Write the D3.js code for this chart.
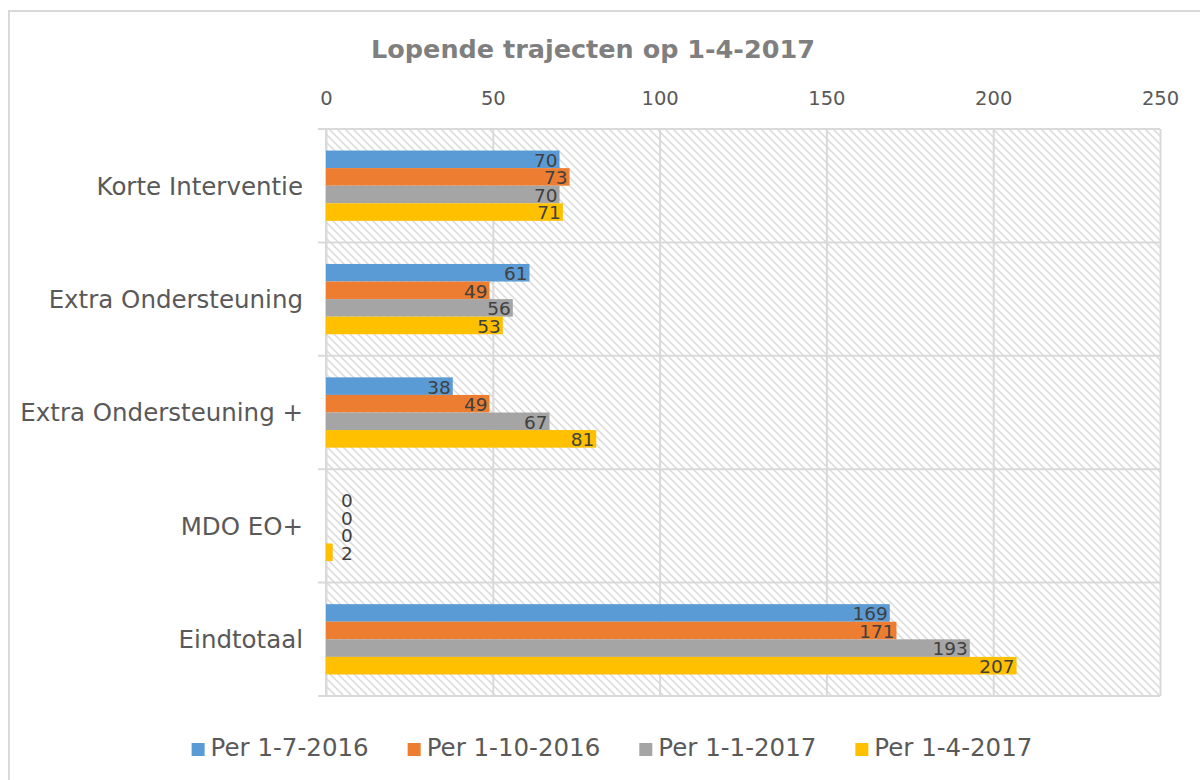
<!DOCTYPE html>
<html>
<head>
<meta charset="utf-8">
<script src="https://cdn.jsdelivr.net/npm/d3@7"></script>
<style>
  html, body { margin: 0; padding: 0; background: #fff; }
  svg text { font-family: 'DejaVu Sans', Verdana, sans-serif; }
</style>
</head>
<body>
<div id="chart"></div>
<script>
// data
const categories = ['Korte Interventie', 'Extra Ondersteuning', 'Extra Ondersteuning +', 'MDO EO+', 'Eindtotaal'];
const seriesNames = ['Per 1-7-2016', 'Per 1-10-2016', 'Per 1-1-2017', 'Per 1-4-2017'];
const perJul2016 = [70, 61, 38, 0, 169];
const perOct2016 = [73, 49, 49, 0, 171];
const perJan2017 = [70, 56, 67, 0, 193];
const perApr2017 = [71, 53, 81, 2, 207];
const xTicks = [0, 50, 100, 150, 200, 250];
const colors = ['#5b9bd5', '#ed7d31', '#a5a5a5', '#ffc000'];

const seriesValues = [perJul2016, perOct2016, perJan2017, perApr2017];

const W = 1200, H = 780;
const plot = { left: 326, right: 1160, top: 129, bottom: 696 };
const gridColor = '#d9d9d9';

const svg = d3.select('#chart').append('svg')
  .attr('width', W)
  .attr('height', H);

// hatch fill for the plot area
const defs = svg.append('defs');
const pat = defs.append('pattern')
  .attr('id', 'hatch')
  .attr('patternUnits', 'userSpaceOnUse')
  .attr('width', 8)
  .attr('height', 8);
pat.append('rect').attr('width', 8).attr('height', 8).attr('fill', '#fff');
pat.append('path')
  .attr('d', 'M0,0 L8,8 M-2,6 L2,10 M6,-2 L10,2')
  .attr('stroke', '#d9d9d9')
  .attr('stroke-width', 1.5);

// outer chart border
svg.append('rect')
  .attr('x', 9).attr('y', 11)
  .attr('width', W).attr('height', H)
  .attr('fill', 'none')
  .attr('stroke', gridColor)
  .attr('stroke-width', 2);

// title
svg.append('text')
  .attr('x', 593)
  .attr('y', 58)
  .attr('text-anchor', 'middle')
  .style('font-size', '25.5px')
  .style('font-weight', 700)
  .style('fill', '#7f7f7f')
  .text('Lopende trajecten op 1-4-2017');

//
// Scales
//
const x = d3.scaleLinear()
  .domain([0, 250])
  .range([plot.left, plot.right]);

const y0 = d3.scaleBand()
  .domain(categories)
  .range([plot.top, plot.bottom])
  .paddingInner(0.38)
  .paddingOuter(0.19);

const y1 = d3.scaleBand()
  .domain(d3.range(seriesNames.length))
  .range([0, y0.bandwidth()]);

// plot background
svg.append('rect')
  .attr('x', plot.left).attr('y', plot.top)
  .attr('width', plot.right - plot.left)
  .attr('height', plot.bottom - plot.top)
  .attr('fill', 'url(#hatch)');

// x axis on top, ticks used as vertical gridlines
const xAxis = d3.axisTop(x)
  .tickValues(xTicks)
  .tickSizeInner(-(plot.bottom - plot.top))
  .tickSizeOuter(0)
  .tickPadding(24);

const gx = svg.append('g')
  .attr('class', 'x axis')
  .attr('transform', `translate(0, ${plot.top})`)
  .call(xAxis);
gx.select('.domain').remove();
gx.selectAll('.tick line')
  .attr('stroke', gridColor)
  .attr('stroke-width', 2);
gx.selectAll('.tick text')
  .style('font-size', '19.5px')
  .style('font-family', "'DejaVu Sans', Verdana, sans-serif")
  .style('fill', '#595959');

// category separators (with small tick to the left)
const step = y0.step();
const bounds = categories.map(c => y0(c) - y0.paddingOuter() * step);
bounds.push(plot.bottom);
svg.append('g').selectAll('line')
  .data(bounds)
  .enter().append('line')
    .attr('x1', plot.left - 8)
    .attr('x2', plot.right)
    .attr('y1', d => d)
    .attr('y2', d => d)
    .attr('stroke', gridColor)
    .attr('stroke-width', 2);

// left axis line
svg.append('line')
  .attr('x1', plot.left).attr('x2', plot.left)
  .attr('y1', plot.top).attr('y2', plot.bottom)
  .attr('stroke', gridColor)
  .attr('stroke-width', 2);

// category labels
svg.append('g').selectAll('text')
  .data(categories)
  .enter().append('text')
    .attr('x', 303)
    .attr('y', d => y0(d) + y0.bandwidth() / 2)
    .attr('dy', '0.36em')
    .attr('text-anchor', 'end')
    .style('font-size', '24.5px')
    .style('fill', '#595959')
    .text(d => d);

//
// Bars
//
const barData = [];
categories.forEach((c, ci) => {
  seriesValues.forEach((vals, si) => {
    barData.push({ cat: c, s: si, v: vals[ci] });
  });
});

const barG = svg.append('g').attr('class', 'bars');
barG.selectAll('rect')
  .data(barData)
  .enter().append('rect')
    .attr('x', x(0))
    .attr('y', d => y0(d.cat) + y1(d.s))
    .attr('width', d => x(d.v) - x(0))
    .attr('height', y1.bandwidth())
    .attr('fill', d => colors[d.s]);

// value labels, inside end (pushed right when the bar is too short)
barG.selectAll('text')
  .data(barData)
  .enter().append('text')
    .attr('x', d => (x(d.v) - x(0) < 30) ? x(0) + 15 : x(d.v) - 2)
    .attr('y', d => y0(d.cat) + y1(d.s) + y1.bandwidth() / 2)
    .attr('dy', '0.4em')
    .attr('text-anchor', d => (x(d.v) - x(0) < 30) ? 'start' : 'end')
    .style('font-size', '18.5px')
    .style('fill', '#404040')
    .text(d => d.v);

//
// Legend
//
const legend = svg.append('g').attr('class', 'legend');
const items = legend.selectAll('g')
  .data(seriesNames)
  .enter().append('g');
items.append('rect')
  .attr('width', 13)
  .attr('height', 13)
  .attr('y', -13)
  .attr('fill', (d, i) => colors[i]);
items.append('text')
  .attr('x', 19)
  .attr('y', 0)
  .style('font-size', '24.5px')
  .style('fill', '#595959')
  .text(d => d);

let offset = 0;
items.each(function() {
  const g = d3.select(this);
  g.attr('transform', `translate(${offset}, 0)`);
  const tw = g.select('text').node().getComputedTextLength();
  offset += 19 + tw + 39;
});
const legendWidth = offset - 39;
legend.attr('transform', `translate(${612 - legendWidth / 2}, 756)`);
</script>
</body>
</html>
